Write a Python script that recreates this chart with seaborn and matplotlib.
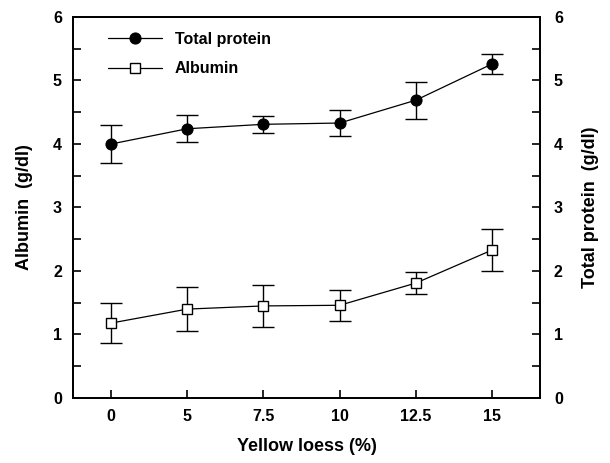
import matplotlib
matplotlib.use("Agg")
import matplotlib.pyplot as plt
import seaborn as sns
import numpy as np
import pandas as pd

categories = ["0", "5", "7.5", "10", "12.5", "15"]
total_protein = [4.00, 4.24, 4.31, 4.33, 4.69, 5.26]
total_protein_err = [0.30, 0.21, 0.13, 0.21, 0.29, 0.16]
albumin = [1.18, 1.40, 1.45, 1.46, 1.81, 2.33]
albumin_err = [0.32, 0.35, 0.33, 0.24, 0.17, 0.33]

sns.set_theme(style="ticks")
plt.rcParams['font.family'] = ['Liberation Sans', 'DejaVu Sans']
plt.rcParams['font.weight'] = 'bold'
plt.rcParams['text.color'] = 'black'
plt.rcParams['axes.labelcolor'] = 'black'
plt.rcParams['xtick.color'] = 'black'
plt.rcParams['ytick.color'] = 'black'

fig = plt.figure(figsize=(6.10, 4.63), dpi=100)
ax = fig.add_axes([0.1197, 0.1404, 0.7656, 0.8229])

pos = np.arange(len(categories))
df = pd.DataFrame({"pos": pos, "tp": total_protein, "alb": albumin})

sns.lineplot(data=df, x="pos", y="tp", ax=ax, color="black", lw=0.9,
             marker="o", markersize=8, markerfacecolor="black",
             markeredgecolor="black", label="Total protein")
sns.lineplot(data=df, x="pos", y="alb", ax=ax, color="black", lw=0.9,
             marker="s", markersize=7, markerfacecolor="white",
             markeredgecolor="black", markeredgewidth=1.0, label="Albumin")
ax.errorbar(pos, total_protein, yerr=total_protein_err, fmt="none",
            ecolor="black", elinewidth=1.0, capsize=8, capthick=1.0, zorder=1)
ax.errorbar(pos, albumin, yerr=albumin_err, fmt="none",
            ecolor="black", elinewidth=1.0, capsize=8, capthick=1.0, zorder=1)

ax.set_xlim(-0.5, 5.63)
ax.set_ylim(0, 6)
ax.set_xticks(pos)
ax.set_xticklabels(categories)
ax.set_yticks(range(0, 7))
ax.set_yticks(np.arange(0.5, 6, 1.0), minor=True)
ax.tick_params(axis="both", which="both", direction="in", labelsize=11.5,
               width=1.2, length=6, top=False, right=False, pad=8,
               colors="black")
for sp in ax.spines.values():
    sp.set_linewidth(1.3)
    sp.set_color("black")
ax.set_xlabel("Yellow loess (%)", fontsize=13, fontweight="bold", labelpad=10)
ax.set_ylabel("Albumin  (g/dl)", fontsize=13, fontweight="bold", labelpad=14)

ax2 = ax.twinx()
ax2.set_ylim(0, 6)
ax2.set_yticks(range(0, 7))
ax2.set_yticks(np.arange(0.5, 6, 1.0), minor=True)
ax2.tick_params(axis="y", which="both", direction="in", labelsize=11.5,
                width=1.2, length=6, pad=10, colors="black")
ax2.set_ylabel("Total protein  (g/dl)", fontsize=13, fontweight="bold", labelpad=14)
for sp in ax2.spines.values():
    sp.set_linewidth(1.3)
    sp.set_color("black")

for lab in ax.get_xticklabels() + ax.get_yticklabels() + ax2.get_yticklabels():
    lab.set_fontweight("bold")

leg = ax.legend(loc="upper left", frameon=False, fontsize=11.5,
                handlelength=3.4, labelspacing=0.9,
                bbox_to_anchor=(0.05, 0.99), borderaxespad=0.3)
for t in leg.get_texts():
    t.set_fontweight("bold")
    t.set_color("black")

fig.savefig("out.png", dpi=100)
